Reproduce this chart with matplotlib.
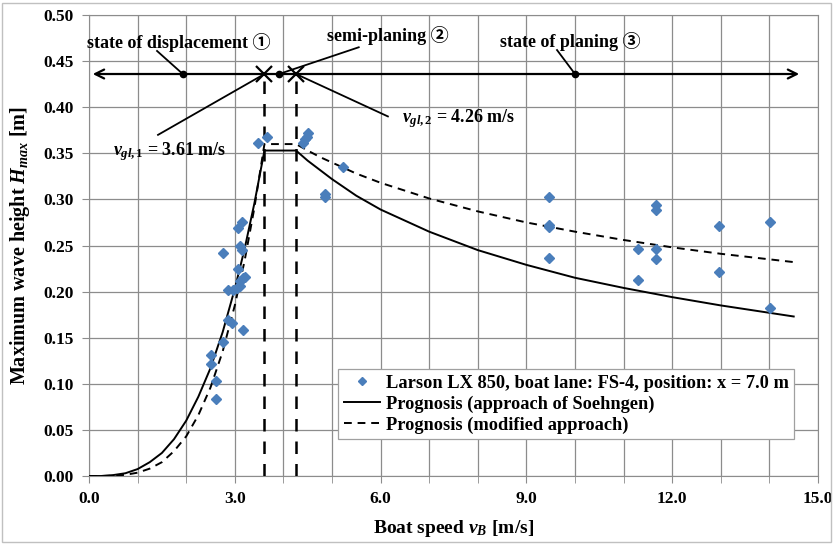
import matplotlib
matplotlib.use('Agg')
import matplotlib.pyplot as plt
import numpy as np
from matplotlib.patches import Rectangle

# fonts: bold serif like the original, CJK family as fallback for the circled digits
plt.rcParams['font.family'] = ['Liberation Serif', 'Noto Sans CJK JP']
plt.rcParams['font.weight'] = 'bold'
plt.rcParams['axes.labelweight'] = 'bold'
plt.rcParams['mathtext.fontset'] = 'custom'
plt.rcParams['mathtext.rm'] = 'Liberation Serif:bold'
plt.rcParams['mathtext.it'] = 'Liberation Serif:italic:bold'
plt.rcParams['mathtext.bf'] = 'Liberation Serif:bold'

# measured points (Larson LX 850, FS-4, x = 7.0 m)
speed_meas = [2.50, 2.52, 2.61, 2.61, 2.76, 2.76, 2.87, 2.94, 3.16, 2.87, 2.97, 3.04,
              3.11, 3.11, 3.17, 3.21, 3.07, 3.11, 3.14, 3.07, 3.14,
              3.48, 3.67, 4.41, 4.44, 4.48, 4.51, 4.86, 4.86, 5.22,
              9.47, 9.47, 9.47, 9.47, 11.30, 11.30, 11.67, 11.67, 11.67, 11.67,
              12.96, 12.96, 14.01, 14.01]
height_meas = [0.131, 0.122, 0.103, 0.084, 0.145, 0.242, 0.169, 0.166, 0.158, 0.202, 0.202, 0.204,
               0.206, 0.211, 0.215, 0.216, 0.225, 0.249, 0.245, 0.269, 0.276,
               0.361, 0.368, 0.361, 0.365, 0.368, 0.372, 0.303, 0.306, 0.335,
               0.303, 0.272, 0.270, 0.236, 0.246, 0.213, 0.294, 0.289, 0.246, 0.235,
               0.271, 0.221, 0.275, 0.182]

# prognosis, approach of Soehngen
soeh_v = [0.0, 0.25, 0.5, 0.75, 1.0, 1.25, 1.5, 1.75, 2.0, 2.25, 2.5, 2.75, 3.0, 3.2, 3.4, 3.61,
          4.26, 4.5, 4.75, 5.0, 5.5, 6.0, 7.0, 8.0, 9.0, 10.0, 11.0, 12.0, 13.0, 14.0, 14.5]
soeh_h = [0.000, 0.000, 0.001, 0.003, 0.0075, 0.015, 0.025, 0.040, 0.060, 0.086, 0.117, 0.156,
          0.203, 0.246, 0.295, 0.353,
          0.353, 0.342, 0.332, 0.322, 0.304, 0.289, 0.265, 0.245, 0.229, 0.215, 0.204, 0.194,
          0.185, 0.177, 0.173]

# prognosis, modified approach
mod_v = [0.0, 0.25, 0.5, 0.75, 1.0, 1.25, 1.5, 1.75, 2.0, 2.25, 2.5, 2.75, 3.0, 3.2, 3.4, 3.61,
         4.26, 4.5, 4.75, 5.0, 5.5, 6.0, 7.0, 8.0, 9.0, 10.0, 11.0, 12.0, 13.0, 14.0, 14.5]
mod_h = [0.000, 0.000, 0.0003, 0.0013, 0.0036, 0.008, 0.015, 0.027, 0.043, 0.066, 0.096, 0.135,
         0.185, 0.233, 0.290, 0.360,
         0.360, 0.353, 0.346, 0.340, 0.328, 0.318, 0.301, 0.287, 0.275, 0.265, 0.256, 0.248,
         0.241, 0.235, 0.232]

# limit speeds and state markers on the arrow line
v_gl = [3.61, 4.26]
arrow_y = 0.436
state_v = [1.93, 3.91, 10.0]

fig = plt.figure(figsize=(8.38, 5.44), dpi=100)
ax = fig.add_axes([89/838, 68/544, 729/838, 461/544])

grid_c = '#8c8c8c'
ax.set_xlim(0, 15)
ax.set_ylim(0, 0.5)
ax.set_xticks(np.arange(0, 15.1, 3.0))
ax.set_xticks(np.arange(0, 15.1, 1.0), minor=True)
ax.set_yticks(np.arange(0, 0.501, 0.05))
ax.set_xticklabels([f'{t:.1f}' for t in np.arange(0, 15.1, 3.0)])
ax.set_yticklabels([f'{t:.2f}' for t in np.arange(0, 0.501, 0.05)])
ax.grid(True, which='both', color=grid_c, linewidth=0.9)
ax.set_axisbelow(True)
for s in ax.spines.values():
    s.set_color(grid_c)
ax.tick_params(which='both', direction='out', length=5, color=grid_c, labelsize=12.5, pad=6)

ax.set_xlabel(r'Boat speed $v_B$ [m/s]', fontsize=14, labelpad=8)
ax.set_ylabel(r'Maximum wave height $H_{max}$ [m]', fontsize=14.5, labelpad=8)

# curves
ax.plot(soeh_v, soeh_h, color='black', lw=1.4, label='Prognosis (approach of Soehngen)', zorder=3)
ax.plot(mod_v, mod_h, color='black', lw=1.4, ls=(0, (4, 3)), label='Prognosis (modified approach)', zorder=3)
sc, = ax.plot(speed_meas, height_meas, 'D', color='#4a7ebb', ms=5.6, mec='#4a7ebb',
              label='Larson LX 850, boat lane: FS-4, position: x = 7.0 m', zorder=4)

# vertical dashed limit lines
for v in v_gl:
    ax.plot([v, v], [0, arrow_y], color='black', lw=1.8, ls=(0, (5, 4)), zorder=3)

# arrow line with the states
ax.annotate('', xy=(14.67, arrow_y), xytext=(0.02, arrow_y),
            arrowprops=dict(arrowstyle='<->', color='black', lw=1.6, mutation_scale=16), zorder=5)
ax.plot(v_gl, [arrow_y] * 2, 'x', color='black', ms=11, mew=1.6, zorder=6)
ax.plot(state_v, [arrow_y] * 3, 'o', color='black', ms=4.5, zorder=6)

fs = 13
ax.text(-0.05, 0.470, 'state of displacement ①', fontsize=fs, va='center', ha='left')
ax.plot([1.40, state_v[0]], [0.461, arrow_y], color='black', lw=1.3)
ax.text(4.9, 0.478, 'semi-planing ②', fontsize=fs, va='center', ha='left')
ax.plot([5.55, state_v[1]], [0.465, arrow_y], color='black', lw=1.3)
ax.text(8.45, 0.471, 'state of planing ③', fontsize=fs, va='center', ha='left')
ax.plot([9.63, state_v[2]], [0.462, arrow_y], color='black', lw=1.3)

ax.text(0.50, 0.352, r'$v_{gl,1}$ = 3.61 m/s', fontsize=fs, va='center', ha='left')
ax.plot([1.42, v_gl[0]], [0.370, arrow_y], color='black', lw=1.3)
ax.text(6.45, 0.388, r'$v_{gl,2}$ = 4.26 m/s', fontsize=fs, va='center', ha='left')
ax.plot([6.15, v_gl[1]], [0.390, arrow_y], color='black', lw=1.3)

leg = ax.legend(handles=[sc, ax.lines[0], ax.lines[1]], loc='lower left',
                bbox_to_anchor=(0.342, 0.080), fontsize=13.2, frameon=True, fancybox=False,
                framealpha=1, edgecolor='#a0a0a0', handlelength=2.0, handletextpad=0.3,
                labelspacing=0.2, borderpad=0.3, borderaxespad=0, markerscale=0.75)
leg.get_frame().set_linewidth(0.9)

fig.patches.append(Rectangle((0.002, 0.004), 0.99, 0.99, transform=fig.transFigure,
                             fill=False, edgecolor='#c0c0c0', lw=1))

plt.savefig('out.png', dpi=100)
